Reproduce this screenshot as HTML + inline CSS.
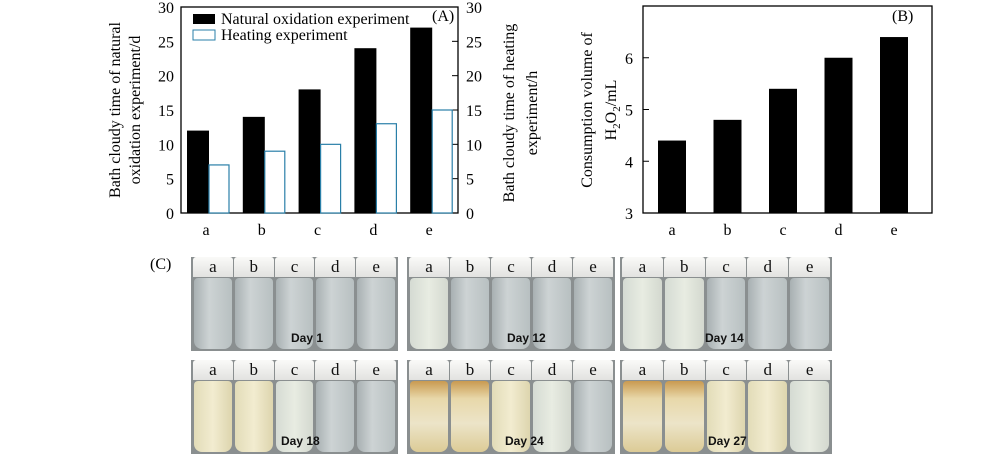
<!DOCTYPE html>
<html><head><meta charset="utf-8"><style>
body{margin:0;background:#fff;width:1000px;height:460px;overflow:hidden;position:relative;font-family:"Liberation Serif",serif}
svg{position:absolute;left:0;top:0}
.panel{position:absolute;background:#8a8f90;display:flex;gap:1px;padding:0 2px;box-sizing:border-box}
.vial{flex:1;position:relative;border-radius:3px 3px 6px 6px;overflow:hidden}
.cap{position:absolute;left:0;right:0;top:0;height:20px;background:linear-gradient(#fafaf8,#e2e2e0);text-align:center;font:17px "Liberation Serif",serif;line-height:20px;color:#111}
.liq{position:absolute;left:1px;right:1px;top:21px;bottom:2px;border-radius:4px 4px 8px 8px}
.day{position:absolute;font:bold 12px "Liberation Sans",sans-serif;color:#111}
</style></head><body>
<svg id="chart" width="1000" height="460"></svg>
<div style="position:absolute;left:150px;top:256px;font-size:16px">(C)</div>
<div id="photos"></div>
<script>
const cats=['a','b','c','d','e'];
const natural=[12,14,18,24,27];
const heating=[7,9,10,13,15];
const h2o2=[4.4,4.8,5.4,6.0,6.4];
const ticksA=[0,5,10,15,20,25,30];
const ticksB=[3,4,5,6];
const NS='http://www.w3.org/2000/svg';
const svg=document.getElementById('chart');
function el(t,a,txt){const e=document.createElementNS(NS,t);for(const k in a)e.setAttribute(k,a[k]);if(txt!==undefined)e.textContent=txt;svg.appendChild(e);return e;}
// Chart A
const A={l:181,r:458,t:7,b:213};
const yA=v=>A.b-(v/30)*(A.b-A.t);
const xA=i=>209+i*55.8;
let e;
e=el('rect',{x:A.l,y:A.t,width:A.r-A.l,height:A.b-A.t,fill:'none',stroke:'#000','stroke-width':1.3});

ticksA.forEach(v=>{
 e=el('text',{x:174,y:yA(v)+6,'text-anchor':'end','font-size':16},v);
 
 e=el('text',{x:466,y:yA(v)+6,'font-size':16},v);
 
 el('line',{x1:A.r-6,x2:A.r,y1:yA(v),y2:yA(v),stroke:'#000'});
});
cats.forEach((c,i)=>{
 e=el('rect',{x:xA(i)-22,y:yA(natural[i]),width:22,height:A.b-yA(natural[i]),fill:'#000'});
 
 e=el('rect',{x:xA(i),y:yA(heating[i]),width:20,height:A.b-yA(heating[i]),fill:'#fff',stroke:'#2a7fa8','stroke-width':1.2});
 
 e=el('text',{x:xA(i)-3,y:235,'text-anchor':'middle','font-size':16},c);
 
});
e=el('rect',{x:193,y:14,width:22,height:10,fill:'#000'});
e=el('text',{x:221,y:24,'font-size':16},'Natural oxidation experiment');
e=el('rect',{x:193,y:30,width:22,height:10,fill:'#fff',stroke:'#2a7fa8'});
e=el('text',{x:221,y:40,'font-size':16},'Heating experiment');
e=el('text',{x:432,y:21,'font-size':16},'(A)');
e=el('text',{transform:'translate(120,110) rotate(-90)','text-anchor':'middle','font-size':16},'Bath cloudy time of natural');
el('text',{transform:'translate(140,110) rotate(-90)','text-anchor':'middle','font-size':16},'oxidation experiment/d');
e=el('text',{transform:'translate(514,113) rotate(-90)','text-anchor':'middle','font-size':16},'Bath cloudy time of heating');
el('text',{transform:'translate(537,113) rotate(-90)','text-anchor':'middle','font-size':16},'experiment/h');
// Chart B
const B={l:643,r:932,t:6,b:213};
const yB=v=>B.b-((v-3)/4)*(B.b-B.t);
const xB=i=>672+i*55.5;
e=el('rect',{x:B.l,y:B.t,width:B.r-B.l,height:B.b-B.t,fill:'none',stroke:'#000','stroke-width':1.3});

ticksB.forEach(v=>{
 e=el('text',{x:633,y:yB(v)+6,'text-anchor':'end','font-size':16},v);
 
 el('line',{x1:B.l,x2:B.l+6,y1:yB(v),y2:yB(v),stroke:'#000'});
});
cats.forEach((c,i)=>{
 e=el('rect',{x:xB(i)-14,y:yB(h2o2[i]),width:28,height:B.b-yB(h2o2[i]),fill:'#000'});
 
 e=el('text',{x:xB(i),y:235,'text-anchor':'middle','font-size':16},c);
 
});
e=el('text',{x:892,y:21,'font-size':16},'(B)');
e=el('text',{transform:'translate(592,110) rotate(-90)','text-anchor':'middle','font-size':16},'Consumption volume of');
const t2=el('text',{transform:'translate(616,110) rotate(-90)','text-anchor':'middle','font-size':16});
t2.innerHTML='H<tspan font-size="11" dy="4">2</tspan><tspan dy="-4">O</tspan><tspan font-size="11" dy="4">2</tspan><tspan dy="-4">/mL</tspan>';
// Photos
const CL='linear-gradient(90deg,#a8b0b2,#cdd3d4 40%,#b8c0c1)',PL='linear-gradient(90deg,#d5dbd3,#e8ece2 50%,#d3d8cf)',CY='linear-gradient(90deg,#e2dcb8,#f2ecd0 50%,#ddd5ae)',BR='linear-gradient(180deg,#c99a50 0%,#e8d8aa 25%,#ece4c8 60%,#dccb96)';
const panels=[
 {x:191,y:257,w:207,d:'Day 1',c:[CL,CL,CL,CL,CL],dx:100},
 {x:407,y:257,w:208,d:'Day 12',c:[PL,CL,CL,CL,CL],dx:100},
 {x:620,y:257,w:212,d:'Day 14',c:[PL,PL,CL,CL,CL],dx:85},
 {x:191,y:360,w:207,d:'Day 18',c:[CY,CY,PL,CL,CL],dx:90},
 {x:407,y:360,w:208,d:'Day 24',c:[BR,BR,CY,PL,CL],dx:98},
 {x:620,y:360,w:212,d:'Day 27',c:[BR,BR,CY,CY,PL],dx:88}];
const ph=document.getElementById('photos');
panels.forEach(p=>{
 const d=document.createElement('div');d.className='panel';
 
 
 d.style.cssText+=`left:${p.x}px;top:${p.y}px;width:${p.w}px;height:94px`;
 cats.forEach((c,i)=>{
  const v=document.createElement('div');v.className='vial';
  v.innerHTML=`<div class="liq" style="background:${p.c[i]}"></div><div class="cap">${c}</div>`;
  d.appendChild(v);
 });
 const t=document.createElement('div');t.className='day';t.textContent=p.d;
 t.style.left=p.dx+'px';t.style.top='74px';d.appendChild(t);
 ph.appendChild(d);
});
</script>
</body></html>
